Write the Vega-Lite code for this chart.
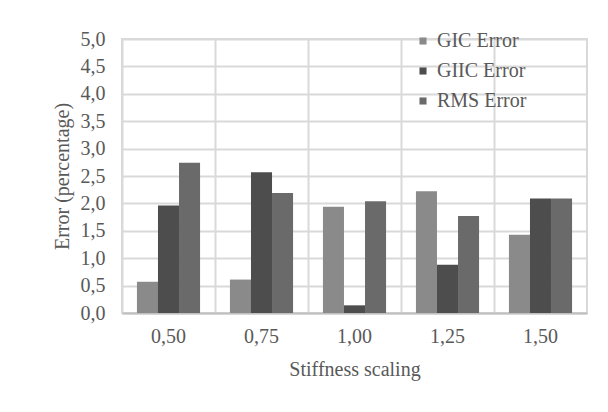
{
  "$schema": "https://vega.github.io/schema/vega-lite/v6.json",
  "width": 465,
  "height": 274,
  "autosize": {"type": "none"},
  "padding": {"left": 122, "top": 39, "right": 21, "bottom": 99},
  "background": "white",
  "config": {
    "view": {"stroke": "#d9d9d9", "strokeWidth": 2},
    "font": "Liberation Serif",
    "axis": {"labelFont": "Liberation Serif", "titleFont": "Liberation Serif", "labelColor": "#595959", "titleColor": "#595959", "labelFontSize": 20, "titleFontSize": 20, "titleFontWeight": "normal", "gridColor": "#d9d9d9", "gridWidth": 2, "ticks": false},
    "legend": {"labelFont": "Liberation Serif", "labelFontSize": 20, "labelColor": "#595959"}
  },
  "data": {"values": [
    {"scaling": "0,50", "series": "GIC Error", "value": 0.57},
    {"scaling": "0,50", "series": "GIIC Error", "value": 1.96},
    {"scaling": "0,50", "series": "RMS Error", "value": 2.74},
    {"scaling": "0,75", "series": "GIC Error", "value": 0.61},
    {"scaling": "0,75", "series": "GIIC Error", "value": 2.57},
    {"scaling": "0,75", "series": "RMS Error", "value": 2.19},
    {"scaling": "1,00", "series": "GIC Error", "value": 1.94},
    {"scaling": "1,00", "series": "GIIC Error", "value": 0.14},
    {"scaling": "1,00", "series": "RMS Error", "value": 2.04},
    {"scaling": "1,25", "series": "GIC Error", "value": 2.22},
    {"scaling": "1,25", "series": "GIIC Error", "value": 0.88},
    {"scaling": "1,25", "series": "RMS Error", "value": 1.77},
    {"scaling": "1,50", "series": "GIC Error", "value": 1.43},
    {"scaling": "1,50", "series": "GIIC Error", "value": 2.09},
    {"scaling": "1,50", "series": "RMS Error", "value": 2.09}
  ]},
  "mark": {"type": "bar"},
  "encoding": {
    "x": {
      "field": "scaling", "type": "nominal", "sort": null,
      "scale": {"paddingInner": 0, "paddingOuter": 0},
      "axis": {"title": "Stiffness scaling", "labelAngle": 0, "labelPadding": 13, "titlePadding": 13, "grid": true, "bandPosition": 0, "domainColor": "#bfbfbf", "domainWidth": 2}
    },
    "xOffset": {
      "field": "series", "type": "nominal",
      "scale": {"domain": ["GIC Error", "GIIC Error", "RMS Error"], "paddingInner": 0, "paddingOuter": 0.71}
    },
    "y": {
      "field": "value", "type": "quantitative",
      "scale": {"domain": [0, 5], "nice": false},
      "axis": {"title": "Error (percentage)", "values": [0, 0.5, 1, 1.5, 2, 2.5, 3, 3.5, 4, 4.5, 5], "labelExpr": "replace(format(datum.value, '.1f'), '.', ',')", "labelPadding": 17, "titlePadding": 8, "domain": false}
    },
    "color": {
      "field": "series", "type": "nominal",
      "scale": {"domain": ["GIC Error", "GIIC Error", "RMS Error"], "range": ["#8a8a8a", "#4d4d4d", "#6a6a6a"]},
      "legend": {"title": null, "orient": "none", "legendX": 291, "legendY": -8, "symbolType": "square", "symbolSize": 50, "rowPadding": 10, "labelOffset": 4}
    }
  }
}
